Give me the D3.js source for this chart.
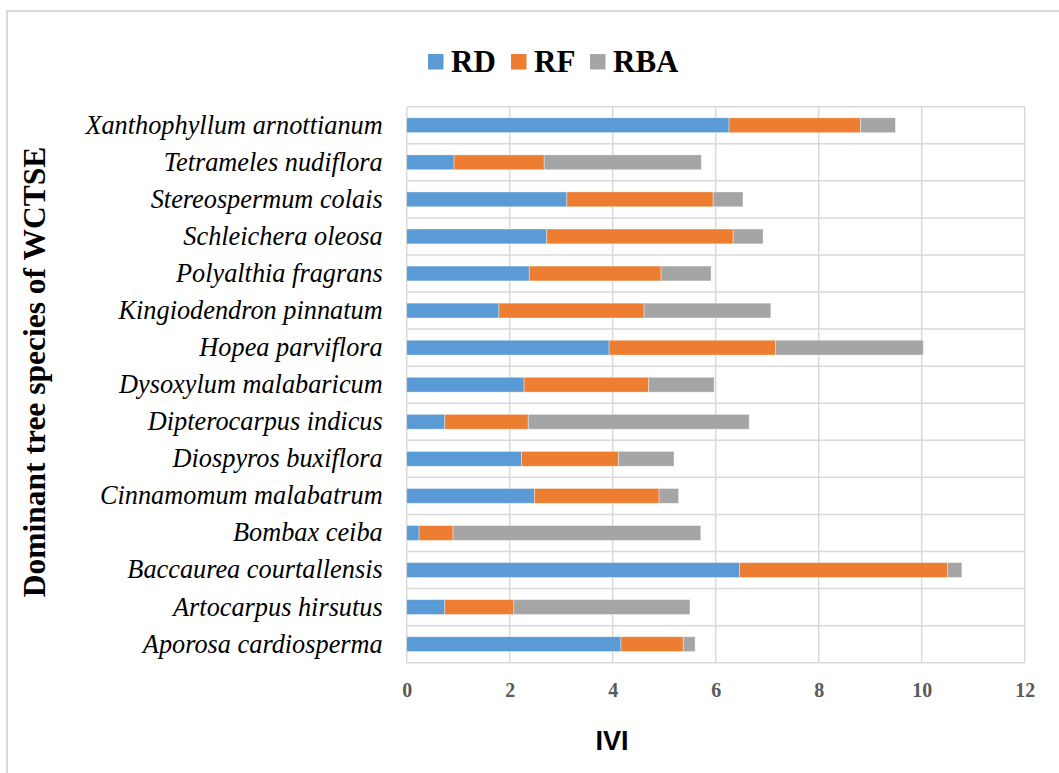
<!DOCTYPE html>
<html><head><meta charset="utf-8">
<script src="https://cdn.jsdelivr.net/npm/d3@7"></script>
<style>body{margin:0;background:#fff}svg{display:block}</style>
</head><body>
<svg id="c" width="1059" height="773"></svg>
<script>
const categories = ["Xanthophyllum arnottianum","Tetrameles nudiflora","Stereospermum colais","Schleichera oleosa","Polyalthia fragrans","Kingiodendron pinnatum","Hopea parviflora","Dysoxylum malabaricum","Dipterocarpus indicus","Diospyros buxiflora","Cinnamomum malabatrum","Bombax ceiba","Baccaurea courtallensis","Artocarpus hirsutus","Aporosa cardiosperma"];
const RD  = [6.26,0.92,3.11,2.72,2.38,1.79,3.93,2.28,0.74,2.23,2.48,0.24,6.46,0.74,4.16];
const RF  = [2.55,1.75,2.84,3.62,2.56,2.82,3.23,2.42,1.62,1.88,2.42,0.66,4.04,1.34,1.21];
const RBA = [0.68,3.05,0.58,0.58,0.97,2.46,2.87,1.27,4.29,1.08,0.38,4.81,0.28,3.42,0.23];
const seriesNames = ["RD","RF","RBA"];
const colors = ["#5b9bd5","#ed7d31","#a5a5a5"];
const xTicks = [0,2,4,6,8,10,12];

const svg = d3.select("#c");
const L = 406.7, R = 1024.7, T = 106.7, B = 662.7;
const x = d3.scaleLinear().domain([0,12]).range([L,R]);
const y = d3.scaleBand().domain(categories).range([T,B]).paddingInner(0.6).paddingOuter(0.3);
const yb = d3.scaleBand().domain(categories).range([T,B]);

// outer border
svg.append("rect").attr("x",7).attr("y",11).attr("width",1060).attr("height",780)
  .attr("fill","none").attr("stroke","#d9d9d9").attr("stroke-width",2);

// gridlines
const g = svg.append("g");
g.selectAll(".vg").data(xTicks).join("line")
  .attr("x1",d=>x(d)).attr("x2",d=>x(d)).attr("y1",T).attr("y2",B)
  .attr("stroke","#d9d9d9").attr("stroke-width",1.5);
const hb = categories.map(c=>yb(c)).concat([B]);
g.selectAll(".hg").data(hb).join("line")
  .attr("x1",L).attr("x2",R).attr("y1",d=>d).attr("y2",d=>d)
  .attr("stroke","#d9d9d9").attr("stroke-width",1.5);

// stacked data
const rows = categories.map((c,i)=>({cat:c,RD:RD[i],RF:RF[i],RBA:RBA[i]}));
const stack = d3.stack().keys(seriesNames)(rows);
svg.append("g").selectAll("g").data(stack).join("g")
  .attr("fill",(d,i)=>colors[i])
  .selectAll("rect").data(d=>d).join("rect")
  .attr("x",d=>x(d[0])).attr("width",d=>x(d[1])-x(d[0]))
  .attr("y",d=>y(d.data.cat)).attr("height",y.bandwidth())
  .attr("stroke","#ffffff").attr("stroke-opacity",0.45).attr("stroke-width",0.8);

// x axis
const xa = svg.append("g").attr("transform",`translate(0,${B})`)
  .call(d3.axisBottom(x).tickValues(xTicks).tickSize(0).tickPadding(20).tickFormat(d3.format("d")));
xa.select(".domain").remove();
xa.selectAll("text").attr("font-family","'Liberation Serif','Times New Roman',serif")
  .attr("font-weight","bold").attr("font-size","20px").attr("fill","#595959");

// y axis
const ya = svg.append("g").attr("transform",`translate(${L},0)`)
  .call(d3.axisLeft(yb).tickSize(0).tickPadding(24));
ya.select(".domain").remove();
ya.selectAll("text").attr("font-family","'Liberation Serif','Times New Roman',serif")
  .attr("font-style","italic").attr("font-size","26.3px").attr("fill","#000");

// axis titles
svg.append("text").attr("x",612).attr("y",750).attr("text-anchor","middle")
  .attr("font-family","'Liberation Sans',Arial,sans-serif").attr("font-weight","bold")
  .attr("font-size","27px").attr("fill","#000").text("IVI");
svg.append("text").attr("transform","translate(45,372) rotate(-90)").attr("text-anchor","middle")
  .attr("font-family","'Liberation Serif','Times New Roman',serif").attr("font-weight","bold")
  .attr("font-size","31.5px").attr("fill","#000").text("Dominant tree species of WCTSE");

// legend
const leg = svg.append("g");
const legX = [428, 511, 590];
seriesNames.forEach((s,i)=>{
  leg.append("rect").attr("x",legX[i]).attr("y",54).attr("width",15.5).attr("height",15.5).attr("fill",colors[i]);
  leg.append("text").attr("x",legX[i]+23).attr("y",72).attr("font-family","'Liberation Serif','Times New Roman',serif")
    .attr("font-weight","bold").attr("font-size","31px").attr("fill","#000").text(s);
});
</script>
</body></html>
